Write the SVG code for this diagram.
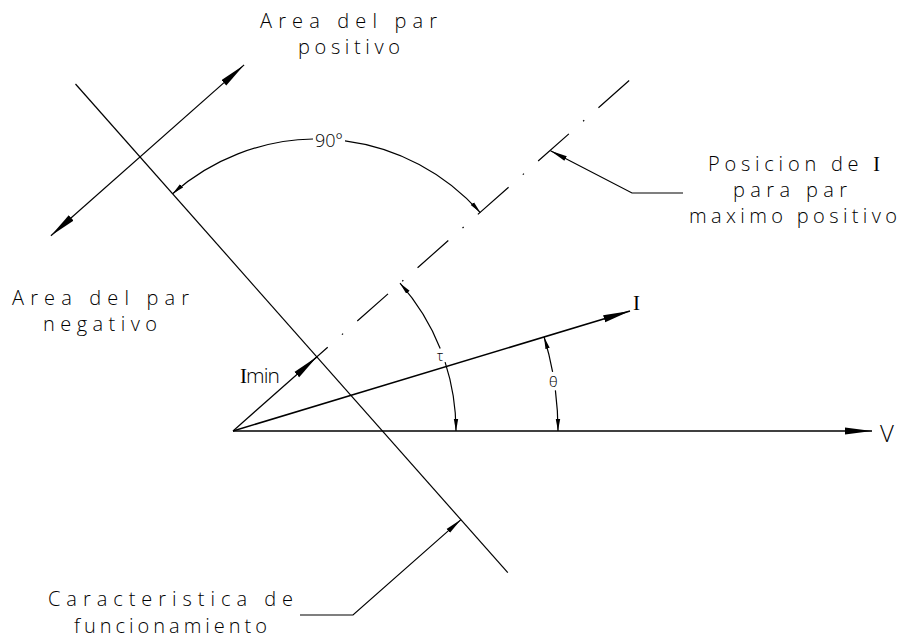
<svg xmlns="http://www.w3.org/2000/svg" width="900" height="642" viewBox="0 0 900 642">
<style>
.t { font-family: "Open Sans", "DejaVu Sans", sans-serif; font-weight: 300; fill: #000; }
.s { font-family: "Liberation Serif", "DejaVu Serif", serif; font-weight: 400; }
.l { fill: none; stroke: #000; stroke-width: 1.2; }
.th { fill: none; stroke: #000; stroke-width: 1.5; }
.dash { fill: none; stroke: #000; stroke-width: 1.2; stroke-dasharray: 41 19 1.5 19; }
</style>
<defs>
<marker id="big" markerUnits="userSpaceOnUse" viewBox="0 -4 27 8" markerWidth="27" markerHeight="8" refX="27" refY="0" orient="auto-start-reverse">
<path d="M0,-3.6 L27,0 L0,3.6 z" fill="#000"/>
</marker>
<marker id="lead" markerUnits="userSpaceOnUse" viewBox="0 -3 17 6" markerWidth="17" markerHeight="6" refX="17" refY="0" orient="auto-start-reverse">
<path d="M0,-2.6 L17,0 L0,2.6 z" fill="#000"/>
</marker>
<marker id="sm" markerUnits="userSpaceOnUse" viewBox="0 -3 12 6" markerWidth="12" markerHeight="6" refX="12" refY="0" orient="auto-start-reverse">
<path d="M0,-2.2 L12,0 L0,2.2 z" fill="#000"/>
</marker>
</defs>
<rect width="900" height="642" fill="#fff"/>
<g id="connectors">
<line id="characteristic-line" class="l" x1="75.5" y1="84" x2="507.8" y2="572.7"/>
<path id="max-torque-line" class="dash" d="M297,374.4 L629.2,80.5"/>
<path id="double-arrow" class="l" d="M50.9,235.8 L244.1,64.9" marker-start="url(#big)" marker-end="url(#big)"/>
<path id="v-axis" class="th" d="M233,431 L872,431" marker-end="url(#big)"/>
<path id="i-vector" class="th" d="M233,431 L630,311" marker-end="url(#big)"/>
<path id="imin-vector" class="l" d="M233,431 L317,356.7" marker-end="url(#big)"/>
<path id="arc90-a" class="l" d="M172.6,193.7 A218,218 0 0 1 313,139" marker-start="url(#sm)"/>
<path id="arc90-b" class="l" d="M345,140.8 A218,218 0 0 1 480.3,212.6" marker-end="url(#sm)"/>
<path id="arc-tau-a" class="l" d="M400,283.2 A223,223 0 0 1 440.2,348.5" marker-start="url(#sm)"/>
<path id="arc-tau-b" class="l" d="M445.1,362.1 A223,223 0 0 1 456,431" marker-end="url(#sm)"/>
<path id="arc-theta-a" class="l" d="M544.1,337 A325,325 0 0 1 552.6,371.8" marker-start="url(#sm)"/>
<path id="arc-theta-b" class="l" d="M555.4,390.3 A325,325 0 0 1 558,431" marker-end="url(#sm)"/>
<path id="leader-posicion" class="l" d="M550.5,150.7 L632,193 L683,193" marker-start="url(#lead)"/>
<path id="leader-caracteristica" class="l" d="M461,519.6 L353,615 L300,615" marker-start="url(#lead)"/>
</g>
<g id="label-area-positivo">
<text class="t" x="260" y="28" font-size="20" textLength="177">Area del par</text>
<text class="t" x="298" y="54" font-size="20" textLength="102">positivo</text>
</g>
<g id="label-area-negativo">
<text class="t" x="12" y="305" font-size="20" textLength="177">Area del par</text>
<text class="t" x="43" y="331" font-size="20" textLength="114">negativo</text>
</g>
<g id="label-posicion">
<text class="t" x="708" y="171" font-size="20" textLength="172">Posicion de <tspan class="s">I</tspan></text>
<text class="t" x="733" y="197" font-size="20" textLength="114">para par</text>
<text class="t" x="689" y="223" font-size="20" textLength="208">maximo positivo</text>
</g>
<g id="label-caracteristica">
<text class="t" x="48" y="606" font-size="20" textLength="245">Caracteristica de</text>
<text class="t" x="74" y="633" font-size="20" textLength="193">funcionamiento</text>
</g>
<g id="label-90">
<text class="t" x="315" y="147" font-size="18" textLength="28">90°</text>
</g>
<g id="label-imin">
<text class="t" x="240" y="383" font-size="21" textLength="40"><tspan class="s">I</tspan>min</text>
</g>
<g id="label-tau">
<text class="t" x="437" y="361" font-size="14">τ</text>
</g>
<g id="label-theta">
<text class="t" x="549" y="387" font-size="15">θ</text>
</g>
<g id="label-i">
<text class="t s" x="633" y="310" font-size="21">I</text>
</g>
<g id="label-v">
<text class="t" x="880" y="442" font-size="24">V</text>
</g>
</svg>
